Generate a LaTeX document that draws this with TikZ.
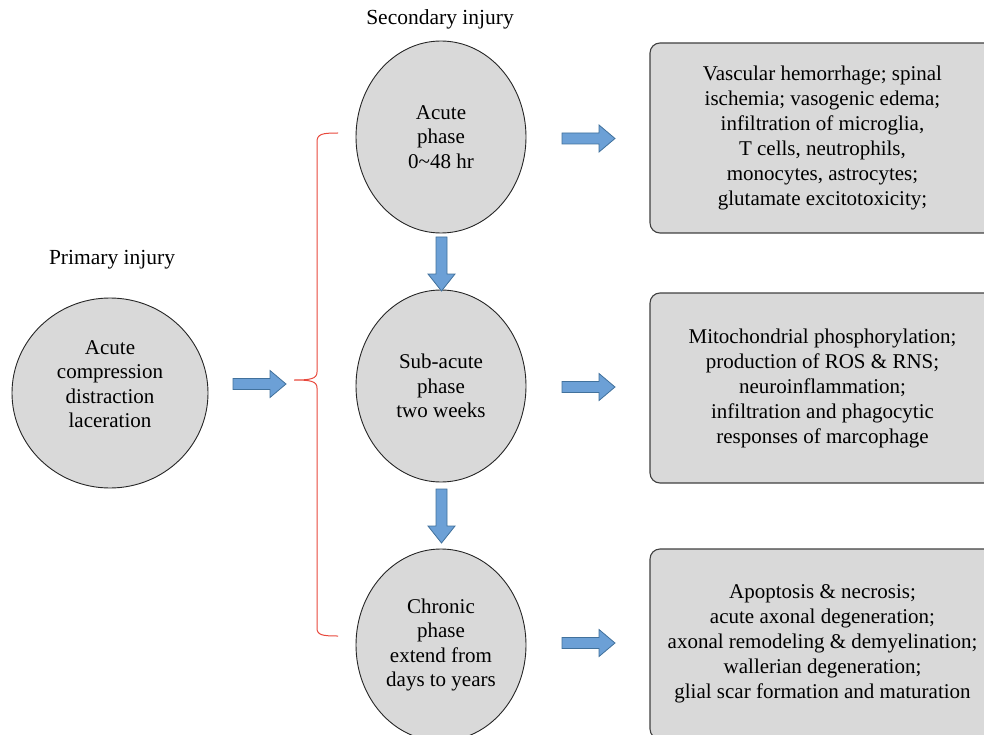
\documentclass[tikz,border=0pt]{standalone}
\usepackage{fontspec}
\setmainfont{Liberation Serif}
\usetikzlibrary{shapes.geometric}
\definecolor{cellgray}{RGB}{217,217,217}
\definecolor{arrfill}{RGB}{108,160,214}
\definecolor{arrline}{RGB}{65,113,156}
\definecolor{bracered}{RGB}{232,72,60}
\newcommand{\RBlock}[2]{\draw[blockarrow] (#1,#2) ++(0,-5.5) -- ++(37,0) -- ++(0,-8) -- ++(16,13.5) -- ++(-16,13.5) -- ++(0,-8) -- ++(-37,0) -- cycle;}
\newcommand{\DBlock}[2]{\draw[blockarrow] (#1,#2) ++(-5.5,0) -- ++(0,37) -- ++(-8,0) -- ++(13.5,17) -- ++(13.5,-17) -- ++(-8,0) -- ++(0,-37) -- cycle;}
\begin{document}
\begin{tikzpicture}[x=1pt,y=-1pt,
  phase/.style={ellipse, draw=black!85, line width=0.9pt, fill=cellgray,
    minimum width=170pt, minimum height=192pt, inner sep=0pt, align=center,
    font=\fontsize{21}{24.5}\selectfont},
  phasetext/.style={inner sep=0pt, align=center, font=\fontsize{21}{24.5}\selectfont},
  infobox/.style={rectangle, rounded corners=10pt, draw=black!75, line width=1.1pt,
    fill=cellgray, minimum width=345pt, minimum height=190pt, align=center,
    font=\fontsize{21}{25}\selectfont},
  blockarrow/.style={fill=arrfill, draw=arrline, line width=0.8pt, line join=miter},
  caption/.style={font=\fontsize{21.5}{24}\selectfont, inner sep=0pt},
  bracestyle/.style={draw=bracered, line width=1pt}]
\useasboundingbox (0,0) rectangle (984,735);
\clip (0,0) rectangle (984,735);

\node[caption] (plabel) at (112,260) {Primary injury};
\node[caption] (slabel) at (440,19) {Secondary injury};

\node[phase, minimum width=196pt, minimum height=190pt] (primary) at (110,393) {};
\node[phasetext] (primarytext) at (110,384) {Acute\\compression\\distraction\\laceration};
\node[phase] (acute) at (441,137) {Acute\\phase\\0\textasciitilde48 hr};
\node[phase] (subacute) at (441,386) {Sub-acute\\phase\\two weeks};
\node[phase] (chronic) at (441,645) {Chronic\\phase\\extend from\\days to years};

\node[infobox] (box1) at (822.5,138) {Vascular hemorrhage; spinal\\ischemia; vasogenic edema;\\infiltration of microglia,\\T cells, neutrophils,\\monocytes, astrocytes;\\glutamate excitotoxicity;};
\node[infobox] (box2) at (822.5,388) {Mitochondrial phosphorylation;\\production of ROS \& RNS;\\neuroinflammation;\\infiltration and phagocytic\\responses of marcophage};
\node[infobox] (box3) at (822.5,644) {Apoptosis \& necrosis;\\acute axonal degeneration;\\axonal remodeling \& demyelination;\\wallerian degeneration;\\glial scar formation and maturation};

\RBlock{233}{384}
\RBlock{562}{138.5}
\RBlock{562}{387}
\RBlock{562}{643}
\DBlock{441.5}{237}
\DBlock{441.5}{489}

\draw[bracestyle] (338,133) .. controls (322,133) and (317,134) .. (317,142)
  -- (317,372) .. controls (317,379) and (310,380) .. (294,380)
  .. controls (310,380) and (317,381) .. (317,388)
  -- (317,628) .. controls (317,635) and (322,636) .. (338,636);
\end{tikzpicture}
\end{document}
